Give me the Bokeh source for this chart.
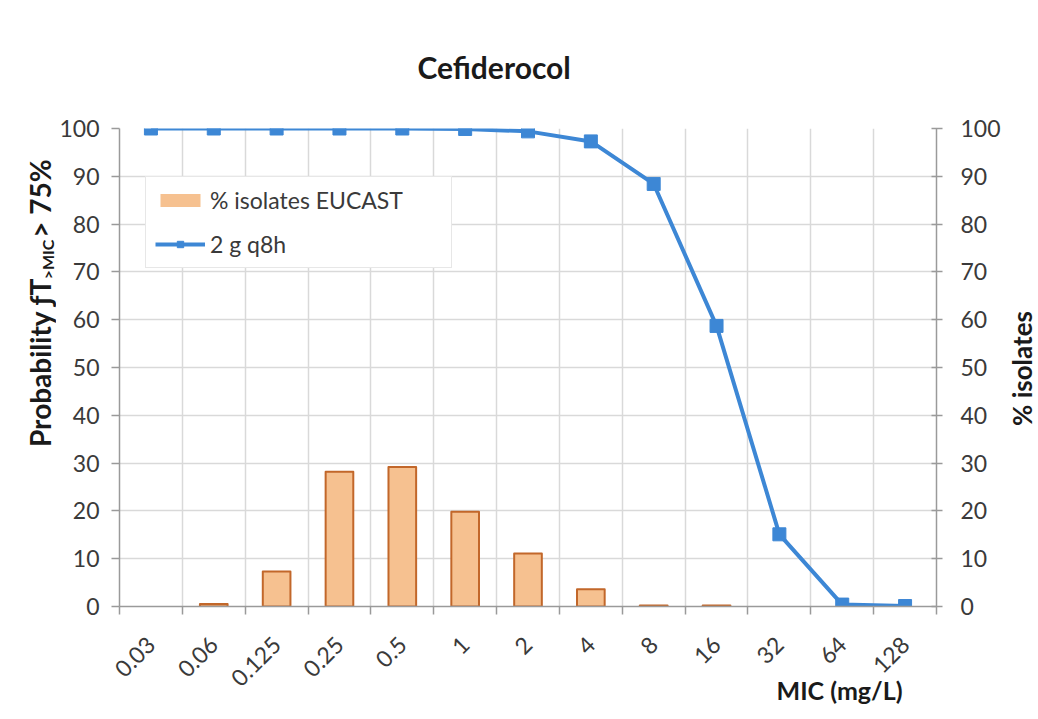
import numpy as np
from bokeh.plotting import figure
from bokeh.layouts import row
from bokeh.models import (Range1d, LinearAxis, FixedTicker, Label, Legend, LegendItem,
                          ColumnDataSource, Title)
from bokeh.embed import file_html
from bokeh.resources import INLINE

# ---- data ----
mic_labels = ["0.03", "0.06", "0.125", "0.25", "0.5", "1", "2", "4", "8", "16", "32", "64", "128"]
isolates_pct = [0, 0.5, 7.3, 28.2, 29.2, 19.8, 11.1, 3.6, 0.2, 0.2, 0, 0, 0]
pta_2g_q8h = [100, 100, 100, 100, 100, 99.9, 99.4, 97.3, 88.4, 58.7, 15.1, 0.4, 0.1]
y_ticks = [0, 10, 20, 30, 40, 50, 60, 70, 80, 90, 100]

title_text = "Cefiderocol"
bar_name = "% isolates EUCAST"
line_name = "2 g q8h"
xlabel_text = "MIC (mg/L)"
ylabel_right = "% isolates"
ylabel_parts = ["Probability ƒT", ">MIC", "> 75%"]

FONT = "Lato"
TXT = "#3a3a3a"
DARK = "#1a1a1a"
AX = "#9a9a9a"
GRID = "#d9d9d9"
BLUE = "#3d87d5"
BAR_FILL = "#f6c190"
BAR_LINE = "#c2672a"

W, H = 1038, 719
LEFT_STRIP, RIGHT_STRIP = 56, 35
FRAME_TOP, FRAME_BOTTOM = 128, 606

xs = list(range(len(mic_labels)))

p = figure(width=W - LEFT_STRIP - RIGHT_STRIP, height=H,
           x_range=Range1d(-0.5, len(mic_labels) - 0.5), y_range=Range1d(0, 100),
           output_backend="svg", toolbar_location=None,
           min_border_left=117 - LEFT_STRIP, min_border_right=(W - RIGHT_STRIP) - 937,
           min_border_top=FRAME_TOP, min_border_bottom=H - FRAME_BOTTOM)
p.outline_line_color = None
p.background_fill_color = "white"
p.border_fill_color = "white"

# title
p.title.text = title_text
p.title.align = "left"
p.title.offset = 298
p.title.standoff = 88
p.title.text_font = FONT
p.title.text_font_style = "bold"
p.title.text_font_size = "30px"
p.title.text_color = DARK

# x axis: labels at centers, ticks & grid at category boundaries
p.xaxis.ticker = FixedTicker(ticks=xs, minor_ticks=[i - 0.5 for i in range(len(mic_labels) + 1)])
p.xaxis.major_label_overrides = {i: lbl for i, lbl in enumerate(mic_labels)}
p.xaxis.major_label_orientation = np.pi / 4
p.xaxis.major_tick_out = 0
p.xaxis.major_tick_in = 0
p.xaxis.minor_tick_out = 8
p.xaxis.minor_tick_in = 0
p.xaxis.minor_tick_line_color = AX
p.xaxis.minor_tick_line_width = 1.5
p.xaxis.axis_line_color = AX
p.xaxis.axis_line_width = 1.5
p.xaxis.major_label_standoff = 26
p.xaxis.major_label_text_font = FONT
p.xaxis.major_label_text_font_size = "23px"
p.xaxis.major_label_text_color = TXT
p.xgrid.grid_line_color = None
p.xgrid.minor_grid_line_color = GRID
p.xgrid.minor_grid_line_width = 1.5

# left y axis
p.yaxis.ticker = FixedTicker(ticks=y_ticks)
p.yaxis.minor_tick_line_color = None
p.yaxis.major_tick_out = 8
p.yaxis.major_tick_in = 0
p.yaxis.major_tick_line_color = AX
p.yaxis.major_tick_line_width = 1.5
p.yaxis.axis_line_color = AX
p.yaxis.axis_line_width = 1.5
p.yaxis.major_label_standoff = 12
p.yaxis.major_label_text_font = FONT
p.yaxis.major_label_text_font_size = "23px"
p.yaxis.major_label_text_color = TXT
p.ygrid.grid_line_color = GRID
p.ygrid.grid_line_width = 1.5

# right y axis
p.extra_y_ranges = {"pct": Range1d(0, 100)}
ax_r = LinearAxis(y_range_name="pct", ticker=FixedTicker(ticks=y_ticks))
ax_r.minor_tick_line_color = None
ax_r.major_tick_out = 6
ax_r.major_tick_in = 5
ax_r.major_tick_line_color = AX
ax_r.major_tick_line_width = 1.5
ax_r.axis_line_color = AX
ax_r.axis_line_width = 1.5
ax_r.major_label_standoff = 18
ax_r.major_label_text_font = FONT
ax_r.major_label_text_font_size = "23px"
ax_r.major_label_text_color = TXT
p.add_layout(ax_r, "right")

# x axis title (below panel, right part)
p.add_layout(Title(text=xlabel_text, align="left", offset=657, vertical_align="top",
                   standoff=-46, text_font=FONT, text_font_style="bold",
                   text_font_size="25px", text_color=DARK), "below")

# bars
bar_src = ColumnDataSource(dict(x=xs, top=isolates_pct,
                                la=[1.0 if v > 0 else 0.0 for v in isolates_pct]))
bars = p.vbar(x="x", top="top", width=0.44, bottom=0, source=bar_src, y_range_name="pct",
              fill_color=BAR_FILL, line_color=BAR_LINE, line_width=2, line_alpha="la",
              line_join="round")

# line
line_src = ColumnDataSource(dict(x=xs, y=pta_2g_q8h))
ln = p.line("x", "y", source=line_src, line_color=BLUE, line_width=4, line_join="round")
pts = p.scatter("x", "y", source=line_src, marker="square", size=13,
                fill_color=BLUE, line_color=BLUE)

legend = Legend(items=[LegendItem(label=bar_name, renderers=[bars]),
                       LegendItem(label=line_name, renderers=[ln, pts])],
                location=(26, 338), orientation="vertical")
legend.label_text_font = FONT
legend.label_text_font_size = "23px"
legend.label_text_color = TXT
legend.glyph_width = 50
legend.glyph_height = 16
legend.label_height = 22
legend.label_standoff = 5
legend.label_width = 232
legend.spacing = 16
legend.padding = 9
legend.margin = 0
legend.border_line_color = "#d0d0d0"
legend.border_line_width = 1.5
legend.background_fill_color = "white"
legend.background_fill_alpha = 1.0
p.add_layout(legend)


def strip(width):
    # frames in a row are aligned with the main frame (FRAME_TOP..FRAME_BOTTOM),
    # so map data y = canvas distance from the bottom of the page
    s = figure(width=width, height=H, x_range=Range1d(0, width),
               y_range=Range1d(H - FRAME_BOTTOM, H - FRAME_TOP),
               x_axis_type=None, y_axis_type=None, output_backend="svg",
               toolbar_location=None, min_border=0)
    s.outline_line_color = None
    s.background_fill_color = "white"
    s.border_fill_color = "white"
    return s


# left strip: y axis title with subscript (centre-anchored pieces)
ls = strip(LEFT_STRIP)
for t, fs, xc, yc in [(ylabel_parts[0], "28px", 39, H - 362),
                      (ylabel_parts[1], "16px", 47, H - 259),
                      (ylabel_parts[2], "28px", 39, H - 198)]:
    ls.add_layout(Label(x=xc, y=yc, text=t, angle=np.pi / 2, text_align="center",
                        text_baseline="middle", text_font=FONT, text_font_style="bold",
                        text_font_size=fs, text_color=DARK))

# right strip: secondary axis title
rs = strip(RIGHT_STRIP)
rs.add_layout(Label(x=18, y=H - 368, text=ylabel_right, angle=np.pi / 2,
                    text_align="center", text_baseline="middle", text_font=FONT,
                    text_font_style="bold", text_font_size="26px", text_color=DARK))

layout = row(ls, p, rs, spacing=0)
open("out.html", "w").write(file_html(layout, INLINE))
